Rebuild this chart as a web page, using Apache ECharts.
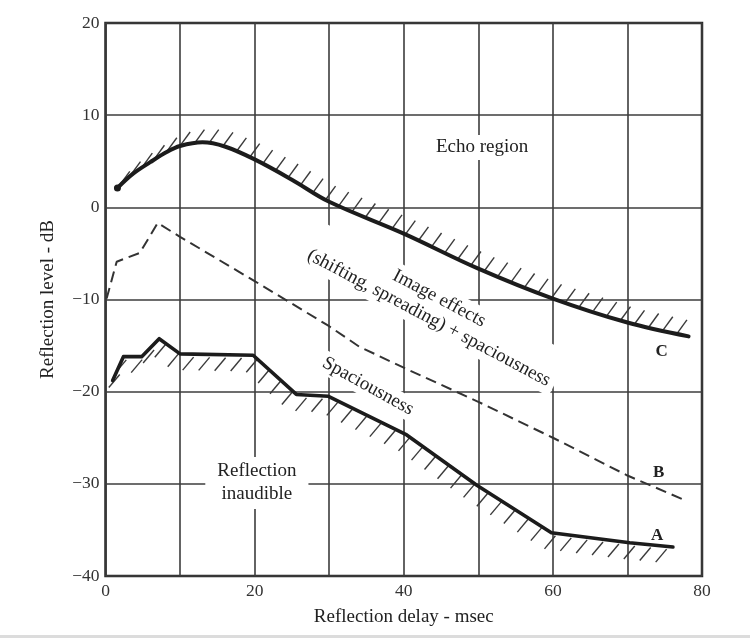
<!DOCTYPE html>
<html><head><meta charset="utf-8">
<script src="https://cdn.jsdelivr.net/npm/echarts@6/dist/echarts.min.js"></script>
<style>html,body{margin:0;padding:0;background:#fff}#c{width:750px;height:638px}</style>
</head><body><div id="c"></div>
<script>
// ---- data ----
const xTicks = [0, 10, 20, 30, 40, 50, 60, 70, 80];
const yTicks = [-40, -30, -20, -10, 0, 10, 20];
const xLabelTicks = [0, 20, 40, 60, 80];

// Curve C (echo threshold), smooth
const curveC_x = [1.6, 3.7, 6, 8.2, 10, 13, 16, 20, 25, 30, 40, 50, 60, 70, 78.2];
const curveC_y = [2.1, 3.65, 4.9, 6.0, 6.65, 7.05, 6.6, 5.2, 3.0, 0.6, -2.85, -6.65, -9.9, -12.5, -14.0];

// Curve B (image effects threshold), dashed
const curveB_x = [0.15, 1.5, 4.6, 7, 10, 20, 30, 34, 40, 50, 60, 70, 77.5];
const curveB_y = [-9.9, -5.9, -4.95, -1.7, -3.2, -8.0, -12.9, -15.1, -17.4, -21.1, -25.0, -29.1, -31.7];

// Curve A (audibility threshold)
const curveA_x = [0.96, 2.4, 4.85, 7.2, 10.0, 19.8, 25.6, 29.9, 40.4, 49.8, 59.8, 70.3, 76.1];
const curveA_y = [-18.8, -16.2, -16.2, -14.25, -15.9, -16.05, -20.3, -20.5, -24.7, -30.15, -35.3, -36.4, -36.85];

// Annotations (data coordinates)
const annoText = ['Echo region', 'Image effects\n(shifting, spreading) + spaciousness', 'Spaciousness', 'Reflection\ninaudible', 'C', 'B', 'A'];
const annoX = [50.5, 44.06, 35.2, 20.3, 74.6, 74.2, 74.0];
const annoY = [6.5, -10.95, -19.4, -29.9, -15.7, -28.8, -35.6];

// ---- styles ----
const FONT = 'Liberation Serif';
const INK = '#1c1c1c';
const GRIDC = '#3d3d3d';
const annoStyle = [
  {rotate: 0, padding: [3, 8], fontSize: 19},
  {rotate: -28, padding: [2, 6], fontSize: 19, lineHeight: 22},
  {rotate: -29, padding: [2, 6], fontSize: 19},
  {rotate: 0, padding: [3, 12], fontSize: 19, lineHeight: 23},
  {rotate: 0, padding: 0, fontSize: 17, fontWeight: 'bold'},
  {rotate: 0, padding: 0, fontSize: 17, fontWeight: 'bold'},
  {rotate: 0, padding: 0, fontSize: 17, fontWeight: 'bold'}
];

const pairs = (xs, ys) => xs.map((x, i) => [x, ys[i]]);
const fmtNum = v => (v < 0 ? '\u2212' + Math.abs(v) : String(v));

function hatchSeries(xs, ys, opt) {
  return {
    type: 'custom',
    zlevel: 2, z: 3,
    silent: true,
    data: [[xs[0], ys[0]]],
    renderItem: function (params, api) {
      const pts = xs.map((x, i) => api.coord([x, ys[i]]));
      const children = [];
      const dx = Math.cos(opt.angle * Math.PI / 180) * opt.dirX;
      const dy = -Math.sin(opt.angle * Math.PI / 180) * opt.dirY;
      let acc = opt.start;
      for (let i = 0; i < pts.length - 1; i++) {
        const p0 = pts[i], p1 = pts[i + 1];
        const L = Math.hypot(p1[0] - p0[0], p1[1] - p0[1]);
        while (acc <= L) {
          const t = acc / L;
          const bx = p0[0] + t * (p1[0] - p0[0]) + opt.ox;
          const by = p0[1] + t * (p1[1] - p0[1]) + opt.oy;
          children.push({
            type: 'line',
            shape: {x1: bx, y1: by, x2: bx + dx * opt.len, y2: by + dy * opt.len},
            style: {stroke: '#3a3a3a', lineWidth: 1.4}
          });
          acc += opt.spacing;
        }
        acc -= L;
      }
      return {type: 'group', children: children};
    }
  };
}

const chart = echarts.init(document.getElementById('c'), null, {renderer: 'canvas'});
const option = {
  animation: false,
  backgroundColor: '#fff',
  grid: {left: 105.5, right: 48, top: 23, bottom: 62, show: true, borderColor: '#262626', borderWidth: 2.5, backgroundColor: 'transparent'},
  xAxis: {
    type: 'value', min: xTicks[0], max: xTicks[xTicks.length - 1], interval: 10,
    axisLine: {show: false}, axisTick: {show: false},
    splitLine: {show: true, lineStyle: {color: GRIDC, width: 1.6}},
    axisLabel: {
      margin: 6, fontFamily: FONT, fontSize: 17.5, color: '#333',
      formatter: v => (xLabelTicks.indexOf(v) >= 0 ? fmtNum(v) : '')
    },
    name: 'Reflection delay - msec', nameLocation: 'middle', nameGap: 32,
    nameTextStyle: {fontFamily: FONT, fontSize: 19, color: '#222'}
  },
  yAxis: {
    type: 'value', min: yTicks[0], max: yTicks[yTicks.length - 1], interval: 10,
    axisLine: {show: false}, axisTick: {show: false},
    splitLine: {show: true, lineStyle: {color: GRIDC, width: 1.6}},
    axisLabel: {margin: 6, fontFamily: FONT, fontSize: 17.5, color: '#333', formatter: fmtNum},
    name: 'Reflection level - dB', nameLocation: 'middle', nameGap: 48, nameRotate: 90,
    nameTextStyle: {fontFamily: FONT, fontSize: 19, color: '#222'}
  },
  series: [
    {
      type: 'line', zlevel: 2, z: 4, smooth: 0.35, data: pairs(curveC_x, curveC_y),
      symbol: (v, p) => (p.dataIndex === 0 ? 'circle' : 'none'), symbolSize: 7,
      itemStyle: {color: INK},
      lineStyle: {color: INK, width: 4, cap: 'round', join: 'round'}
    },
    {
      type: 'line', zlevel: 2, z: 4, data: pairs(curveB_x, curveB_y), symbol: 'none',
      lineStyle: {color: '#333', width: 2, type: [11, 6]}
    },
    {
      type: 'line', zlevel: 2, z: 4, data: pairs(curveA_x, curveA_y), symbol: 'none',
      lineStyle: {color: INK, width: 3.6, cap: 'round', join: 'round'}
    },
    hatchSeries(curveC_x, curveC_y, {angle: 54, dirX: 1, dirY: 1, len: 16, spacing: 14.5, start: 4, ox: 0, oy: -1}),
    hatchSeries(curveA_x, curveA_y, {angle: 50, dirX: -1, dirY: -1, len: 17, spacing: 16, start: 10, ox: 3, oy: 3})
  ]
};
chart.setOption(option);

// Annotation texts placed through the chart's own coordinate system
const graphics = annoText.map((t, i) => {
  const p = chart.convertToPixel({gridIndex: 0}, [annoX[i], annoY[i]]);
  const s = annoStyle[i];
  return {
    type: 'text', zlevel: 1, z: 1, silent: true,
    x: p[0], y: p[1], rotation: s.rotate * Math.PI / 180,
    style: {
      text: t, fontFamily: FONT, fontSize: s.fontSize, fontWeight: s.fontWeight || 'normal',
      lineHeight: s.lineHeight, fill: '#222', align: 'center', verticalAlign: 'middle',
      backgroundColor: i < 4 ? '#fff' : null, padding: s.padding
    }
  };
});
graphics.push({type: 'rect', left: 0, bottom: 0, shape: {width: 750, height: 3}, style: {fill: '#dcdcdc'}, z: 10});
chart.setOption({graphic: graphics});
</script>
</body></html>
